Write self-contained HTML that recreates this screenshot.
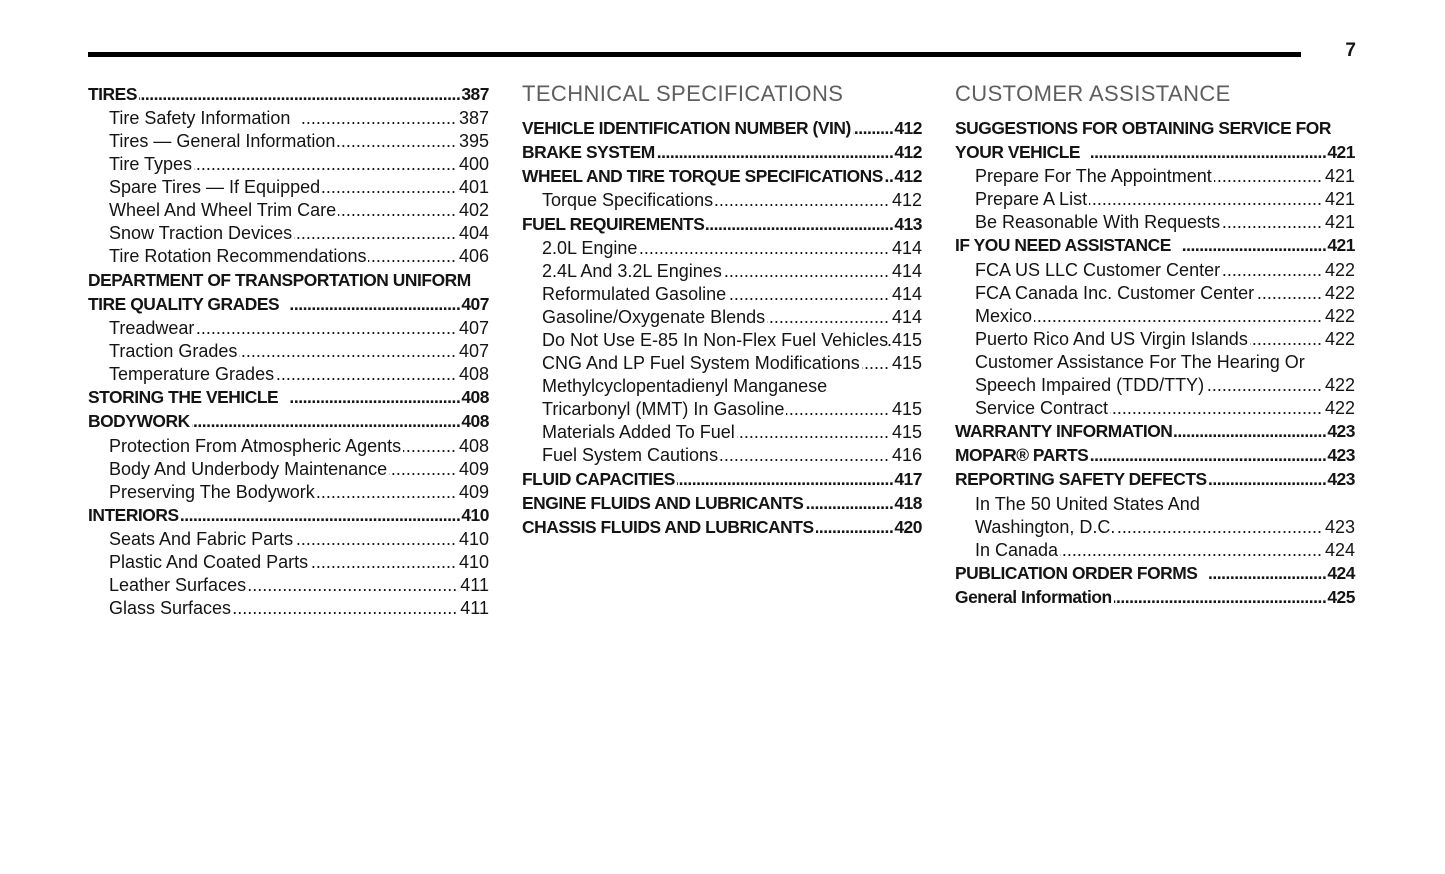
<!DOCTYPE html>
<html>
<head>
<meta charset="utf-8">
<style>
html,body{margin:0;padding:0;background:#fff;}
body{width:1445px;height:874px;position:relative;overflow:hidden;font-family:"Liberation Sans",Arial,sans-serif;color:#141414;}
.rule{position:absolute;left:88px;top:52px;width:1213px;height:5px;background:#000;}
.pn{position:absolute;left:1336px;top:39px;width:20px;text-align:right;font-size:19px;font-weight:bold;line-height:24px;}
.h{position:absolute;font-size:22px;line-height:24px;color:#5e5e5e;height:24px;white-space:nowrap;letter-spacing:0.4px;}
.r{position:absolute;height:24px;line-height:24px;font-size:18px;display:flex;align-items:baseline;white-space:nowrap;}
.r .t{flex:0 0 auto;padding-right:2px;}
.r .d{flex:1 1 auto;overflow:hidden;direction:rtl;text-align:right;min-width:0;padding-right:3px;}
.r .n{flex:0 0 auto;}
.b{font-weight:bold;font-size:17.4px;letter-spacing:-0.45px;}
.b .d{padding-right:1px;}
.L{left:88px;width:401px;}
.Li{left:109px;width:380px;}
.M{left:522px;width:400px;}
.Mi{left:542px;width:380px;}
.R{left:955px;width:400px;}
.Ri{left:975px;width:380px;}
</style>
</head>
<body>
<div class="rule"></div>
<div class="pn">7</div>

<!-- LEFT COLUMN -->
<div class="r b L" style="top:82px"><span class="t">TIRES </span><span class="d">........................................................................................................</span><span class="n">387</span></div>
<div class="r Li" style="top:106px"><span class="t">Tire Safety Information &nbsp;</span><span class="d">........................................................................................................</span><span class="n">387</span></div>
<div class="r Li" style="top:129px"><span class="t">Tires — General Information </span><span class="d">........................................................................................................</span><span class="n">395</span></div>
<div class="r Li" style="top:152px"><span class="t">Tire Types</span><span class="d">........................................................................................................</span><span class="n">400</span></div>
<div class="r Li" style="top:175px"><span class="t">Spare Tires — If Equipped</span><span class="d">........................................................................................................</span><span class="n">401</span></div>
<div class="r Li" style="top:198px"><span class="t">Wheel And Wheel Trim Care </span><span class="d">........................................................................................................</span><span class="n">402</span></div>
<div class="r Li" style="top:221px"><span class="t">Snow Traction Devices </span><span class="d">........................................................................................................</span><span class="n">404</span></div>
<div class="r Li" style="top:244px"><span class="t">Tire Rotation Recommendations </span><span class="d">........................................................................................................</span><span class="n">406</span></div>
<div class="r b L" style="top:268px"><span class="t">DEPARTMENT OF TRANSPORTATION UNIFORM</span></div>
<div class="r b L" style="top:292px"><span class="t">TIRE QUALITY GRADES &nbsp;</span><span class="d">........................................................................................................</span><span class="n">407</span></div>
<div class="r Li" style="top:316px"><span class="t">Treadwear</span><span class="d">........................................................................................................</span><span class="n">407</span></div>
<div class="r Li" style="top:339px"><span class="t">Traction Grades</span><span class="d">........................................................................................................</span><span class="n">407</span></div>
<div class="r Li" style="top:362px"><span class="t">Temperature Grades</span><span class="d">........................................................................................................</span><span class="n">408</span></div>
<div class="r b L" style="top:385px"><span class="t">STORING THE VEHICLE &nbsp;</span><span class="d">........................................................................................................</span><span class="n">408</span></div>
<div class="r b L" style="top:409px"><span class="t">BODYWORK</span><span class="d">........................................................................................................</span><span class="n">408</span></div>
<div class="r Li" style="top:434px"><span class="t">Protection From Atmospheric Agents </span><span class="d">........................................................................................................</span><span class="n">408</span></div>
<div class="r Li" style="top:457px"><span class="t">Body And Underbody Maintenance</span><span class="d">........................................................................................................</span><span class="n">409</span></div>
<div class="r Li" style="top:480px"><span class="t">Preserving The Bodywork </span><span class="d">........................................................................................................</span><span class="n">409</span></div>
<div class="r b L" style="top:503px"><span class="t">INTERIORS </span><span class="d">........................................................................................................</span><span class="n">410</span></div>
<div class="r Li" style="top:527px"><span class="t">Seats And Fabric Parts</span><span class="d">........................................................................................................</span><span class="n">410</span></div>
<div class="r Li" style="top:550px"><span class="t">Plastic And Coated Parts </span><span class="d">........................................................................................................</span><span class="n">410</span></div>
<div class="r Li" style="top:573px"><span class="t">Leather Surfaces</span><span class="d">........................................................................................................</span><span class="n">411</span></div>
<div class="r Li" style="top:596px"><span class="t">Glass Surfaces </span><span class="d">........................................................................................................</span><span class="n">411</span></div>

<!-- MIDDLE COLUMN -->
<div class="h" style="left:522px;top:82px">TECHNICAL SPECIFICATIONS</div>
<div class="r b M" style="top:116px"><span class="t">VEHICLE IDENTIFICATION NUMBER (VIN)</span><span class="d">........................................................................................................</span><span class="n">412</span></div>
<div class="r b M" style="top:140px"><span class="t">BRAKE SYSTEM</span><span class="d">........................................................................................................</span><span class="n">412</span></div>
<div class="r b M" style="top:164px"><span class="t">WHEEL AND TIRE TORQUE SPECIFICATIONS</span><span class="d">........................................................................................................</span><span class="n">412</span></div>
<div class="r Mi" style="top:188px"><span class="t">Torque Specifications </span><span class="d">........................................................................................................</span><span class="n">412</span></div>
<div class="r b M" style="top:212px"><span class="t">FUEL REQUIREMENTS </span><span class="d">........................................................................................................</span><span class="n">413</span></div>
<div class="r Mi" style="top:236px"><span class="t">2.0L Engine </span><span class="d">........................................................................................................</span><span class="n">414</span></div>
<div class="r Mi" style="top:259px"><span class="t">2.4L And 3.2L Engines</span><span class="d">........................................................................................................</span><span class="n">414</span></div>
<div class="r Mi" style="top:282px"><span class="t">Reformulated Gasoline </span><span class="d">........................................................................................................</span><span class="n">414</span></div>
<div class="r Mi" style="top:305px"><span class="t">Gasoline/Oxygenate Blends</span><span class="d">........................................................................................................</span><span class="n">414</span></div>
<div class="r Mi" style="top:328px"><span class="t" style="padding-right:0">Do Not Use E-85 In Non-Flex Fuel Vehicles</span><span class="d" style="padding-right:0">........................................................................................................</span><span class="n">415</span></div>
<div class="r Mi" style="top:351px"><span class="t">CNG And LP Fuel System Modifications</span><span class="d">........................................................................................................</span><span class="n">415</span></div>
<div class="r Mi" style="top:374px"><span class="t">Methylcyclopentadienyl Manganese</span></div>
<div class="r Mi" style="top:397px"><span class="t">Tricarbonyl (MMT) In Gasoline</span><span class="d">........................................................................................................</span><span class="n">415</span></div>
<div class="r Mi" style="top:420px"><span class="t">Materials Added To Fuel</span><span class="d">........................................................................................................</span><span class="n">415</span></div>
<div class="r Mi" style="top:443px"><span class="t">Fuel System Cautions </span><span class="d">........................................................................................................</span><span class="n">416</span></div>
<div class="r b M" style="top:467px"><span class="t">FLUID CAPACITIES </span><span class="d">........................................................................................................</span><span class="n">417</span></div>
<div class="r b M" style="top:491px"><span class="t">ENGINE FLUIDS AND LUBRICANTS</span><span class="d">........................................................................................................</span><span class="n">418</span></div>
<div class="r b M" style="top:515px"><span class="t">CHASSIS FLUIDS AND LUBRICANTS </span><span class="d">........................................................................................................</span><span class="n">420</span></div>

<!-- RIGHT COLUMN -->
<div class="h" style="left:955px;top:82px">CUSTOMER ASSISTANCE</div>
<div class="r b R" style="top:116px"><span class="t">SUGGESTIONS FOR OBTAINING SERVICE FOR</span></div>
<div class="r b R" style="top:140px"><span class="t">YOUR VEHICLE &nbsp;</span><span class="d">........................................................................................................</span><span class="n">421</span></div>
<div class="r Ri" style="top:164px"><span class="t">Prepare For The Appointment</span><span class="d">........................................................................................................</span><span class="n">421</span></div>
<div class="r Ri" style="top:187px"><span class="t">Prepare A List</span><span class="d">........................................................................................................</span><span class="n">421</span></div>
<div class="r Ri" style="top:210px"><span class="t">Be Reasonable With Requests</span><span class="d">........................................................................................................</span><span class="n">421</span></div>
<div class="r b R" style="top:233px"><span class="t">IF YOU NEED ASSISTANCE &nbsp;</span><span class="d">........................................................................................................</span><span class="n">421</span></div>
<div class="r Ri" style="top:258px"><span class="t">FCA US LLC Customer Center</span><span class="d">........................................................................................................</span><span class="n">422</span></div>
<div class="r Ri" style="top:281px"><span class="t">FCA Canada Inc. Customer Center </span><span class="d">........................................................................................................</span><span class="n">422</span></div>
<div class="r Ri" style="top:304px"><span class="t">Mexico</span><span class="d">........................................................................................................</span><span class="n">422</span></div>
<div class="r Ri" style="top:327px"><span class="t">Puerto Rico And US Virgin Islands </span><span class="d">........................................................................................................</span><span class="n">422</span></div>
<div class="r Ri" style="top:350px"><span class="t">Customer Assistance For The Hearing Or</span></div>
<div class="r Ri" style="top:373px"><span class="t">Speech Impaired (TDD/TTY)</span><span class="d">........................................................................................................</span><span class="n">422</span></div>
<div class="r Ri" style="top:396px"><span class="t">Service Contract </span><span class="d">........................................................................................................</span><span class="n">422</span></div>
<div class="r b R" style="top:419px"><span class="t">WARRANTY INFORMATION</span><span class="d">........................................................................................................</span><span class="n">423</span></div>
<div class="r b R" style="top:443px"><span class="t">MOPAR® PARTS </span><span class="d">........................................................................................................</span><span class="n">423</span></div>
<div class="r b R" style="top:467px"><span class="t">REPORTING SAFETY DEFECTS </span><span class="d">........................................................................................................</span><span class="n">423</span></div>
<div class="r Ri" style="top:492px"><span class="t">In The 50 United States And</span></div>
<div class="r Ri" style="top:515px"><span class="t">Washington, D.C.</span><span class="d">........................................................................................................</span><span class="n">423</span></div>
<div class="r Ri" style="top:538px"><span class="t">In Canada </span><span class="d">........................................................................................................</span><span class="n">424</span></div>
<div class="r b R" style="top:561px"><span class="t">PUBLICATION ORDER FORMS &nbsp;</span><span class="d">........................................................................................................</span><span class="n">424</span></div>
<div class="r b R" style="top:585px"><span class="t">General Information</span><span class="d">........................................................................................................</span><span class="n">425</span></div>
</body>
</html>
